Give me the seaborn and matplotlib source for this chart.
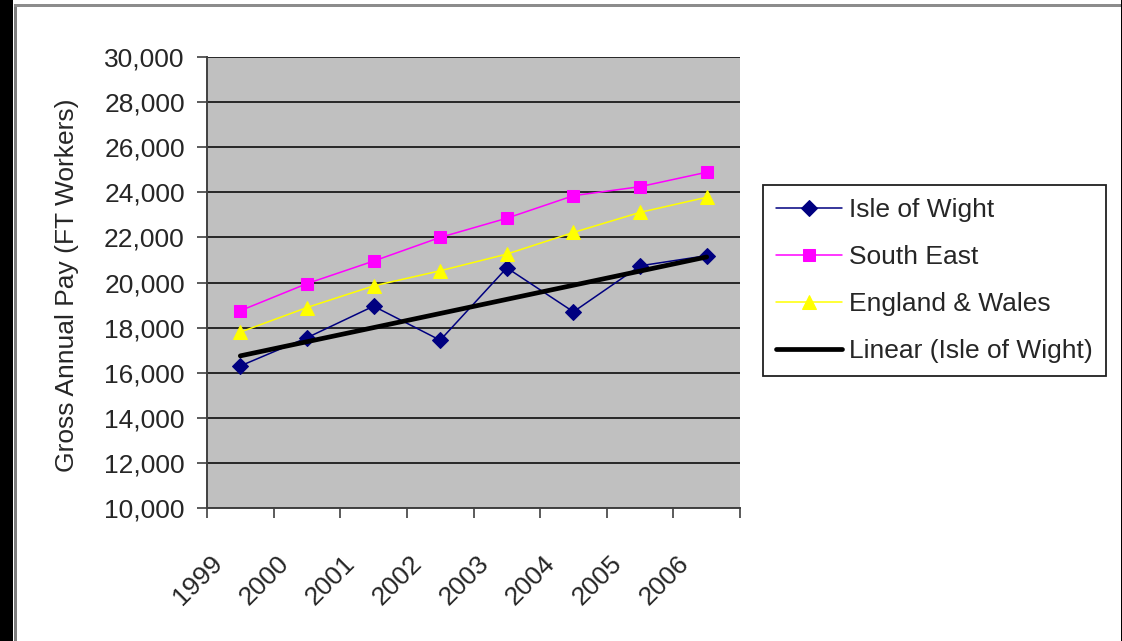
import matplotlib
matplotlib.use("Agg")
import matplotlib.pyplot as plt
import matplotlib.patches as mpatches
from matplotlib.transforms import ScaledTranslation
from matplotlib.ticker import FixedLocator, FuncFormatter
import numpy as np
import seaborn as sns

# Gross annual pay of full-time workers
years = ["1999", "2000", "2001", "2002", "2003", "2004", "2005", "2006"]
isle_of_wight = [16300, 17550, 18950, 17440, 20650, 18700, 20740, 21190]
south_east = [18750, 19950, 20950, 22000, 22850, 23850, 24250, 24890]
england_wales = [17800, 18890, 19850, 20520, 21260, 22220, 23110, 23780]
y_ticks = list(range(10000, 30001, 2000))

sns.set_style("white")
plt.rcParams["font.family"] = ["Liberation Sans", "DejaVu Sans"]

FS = 19
fig = plt.figure(figsize=(11.22, 6.41), dpi=100)
ax = fig.add_axes([207 / 1122, 1 - 508 / 641, 533 / 1122, 451 / 641])
ax.set_facecolor("#C0C0C0")

xpos = np.arange(len(years))

sns.lineplot(x=xpos, y=isle_of_wight, ax=ax, color="#000080", marker="D",
             markersize=8, markeredgecolor="#000080", linewidth=1.1,
             label="Isle of Wight", zorder=4)
sns.lineplot(x=xpos, y=south_east, ax=ax, color="#FF00FF", marker="s",
             markersize=9, markeredgecolor="#FF00FF", linewidth=1.1,
             label="South East", zorder=4)
sns.lineplot(x=xpos, y=england_wales, ax=ax, color="#FFFF00", marker="^",
             markersize=10, markeredgecolor="#FFFF00", linewidth=1.1,
             label="England & Wales", zorder=4)
sns.regplot(x=xpos, y=np.array(isle_of_wight), ax=ax, scatter=False, ci=None,
            truncate=True, color="black", label="Linear (Isle of Wight)",
            line_kws={"linewidth": 3.4, "zorder": 5})

ax.set_xlim(-0.5, len(years) - 0.5)
ax.set_ylim(y_ticks[0], y_ticks[-1])

# gridlines at every y tick
ax.yaxis.set_major_locator(FixedLocator(y_ticks))
ax.yaxis.set_major_formatter(FuncFormatter(lambda v, p: f"{int(v):,}"))
ax.grid(axis="y", color="#262626", linewidth=1.4)
ax.grid(axis="x", visible=False)
ax.set_axisbelow(True)

# category boundaries carry the tick marks, centres carry the labels
ax.xaxis.set_major_locator(FixedLocator(np.arange(-0.5, len(years), 1.0)))
ax.xaxis.set_minor_locator(FixedLocator(xpos))
ax.set_xticklabels([], minor=False)
ax.set_xticklabels(years, minor=True)
ax.tick_params(axis="x", which="major", direction="out", length=7,
               width=1.2, color="#404040", bottom=True)
ax.tick_params(axis="x", which="minor", length=0, pad=37, labelsize=FS)
ax.tick_params(axis="y", direction="out", length=7, width=1.2,
               color="#404040", left=True, labelsize=FS, pad=9)
offset = ScaledTranslation(-0.22, 0, fig.dpi_scale_trans)
for lab in ax.get_xticklabels(minor=True):
    lab.set_rotation(45)
    lab.set_rotation_mode("anchor")
    lab.set_ha("right")
    lab.set_va("center")
    lab.set_transform(lab.get_transform() + offset)

for side in ("top", "right"):
    ax.spines[side].set_visible(False)
for side in ("left", "bottom"):
    ax.spines[side].set_color("#404040")
    ax.spines[side].set_linewidth(1.4)

ax.set_xlabel("")
ax.set_ylabel("Gross Annual Pay (FT Workers)", fontsize=FS)
ax.yaxis.set_label_coords(-0.24, 0.494)

leg = ax.legend(loc="upper left", bbox_to_anchor=(763 / 1122, 1 - 185 / 641),
                bbox_transform=fig.transFigure, borderaxespad=0,
                fontsize=FS, frameon=True, fancybox=False, framealpha=1,
                handlelength=2.5, handletextpad=0.25, labelspacing=0.87,
                borderpad=0.5)
leg.get_frame().set_edgecolor("#202020")
leg.get_frame().set_linewidth(1.3)

# outer chart frame
fig.patches.append(mpatches.Rectangle((0, 0), 13 / 1122, 1, transform=fig.transFigure,
                                      facecolor="black", edgecolor="none"))
fig.patches.append(mpatches.Rectangle((14 / 1122, 0), 2.5 / 1122, 1 - 5 / 641,
                                      transform=fig.transFigure,
                                      facecolor="#7f7f7f", edgecolor="none"))
fig.patches.append(mpatches.Rectangle((14 / 1122, 1 - 7 / 641), 1 - 14 / 1122, 2.5 / 641,
                                      transform=fig.transFigure,
                                      facecolor="#8c8c8c", edgecolor="none"))
fig.patches.append(mpatches.Rectangle((1 - 1.5 / 1122, 0), 1.5 / 1122, 1,
                                      transform=fig.transFigure,
                                      facecolor="black", edgecolor="none"))

fig.savefig("out.png", dpi=100, facecolor="white")
